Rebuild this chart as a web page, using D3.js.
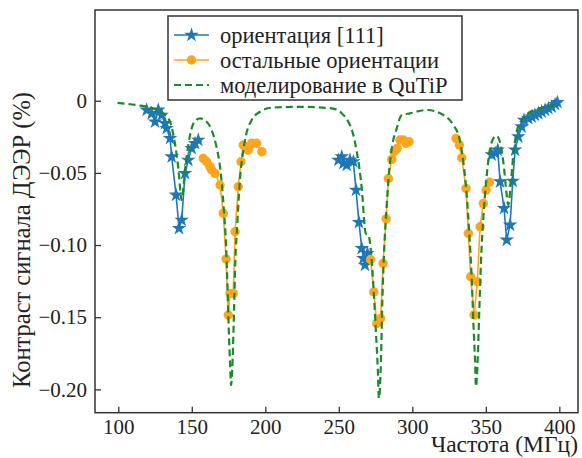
<!DOCTYPE html>
<html lang="ru">
<head>
<meta charset="UTF-8" />
<title>ДЭЭР</title>
<style>
  html, body { margin: 0; padding: 0; background: #fff; }
  svg text { font-family: "Liberation Serif", "DejaVu Serif", serif; fill: #222; }
</style>
</head>
<body>
<div id="chart"></div>
<script src="https://d3js.org/d3.v7.min.js"></script>
<script>
  // ориентация [111] — три участка
  const blueFreqA = [119.3,122.7,125.0,127.2,129.5,131.8,132.9,135.2,136.3,139.3,141.3,143.1,145.4,147.6,149.9,152.2,154.4];
  const blueValA  = [-0.0064,-0.0088,-0.0146,-0.0064,-0.0099,-0.0157,-0.0191,-0.0260,-0.0388,-0.0653,-0.0884,-0.0827,-0.0503,-0.0411,-0.0330,-0.0295,-0.0272];
  const blueFreqB = [249.7,252.0,253.1,255.4,257.6,259.9,261.7,263.7,265.6,266.7,267.8,269.5];
  const blueValB  = [-0.0411,-0.0388,-0.0434,-0.0445,-0.0411,-0.0422,-0.0619,-0.0843,-0.1023,-0.1092,-0.1139,-0.1058];
  const blueFreqC = [354.0,356.3,358.1,359.7,362.4,364.2,366.5,368.3,369.9,372.1,374.4,376.0,378.9,381.2,383.4,385.7,388.0,390.3,392.5,394.8,397.1,398.7];
  const blueValC  = [-0.0374,-0.0363,-0.0341,-0.0561,-0.0745,-0.0965,-0.0861,-0.0557,-0.0341,-0.0249,-0.0180,-0.0134,-0.0122,-0.0111,-0.0099,-0.0088,-0.0076,-0.0064,-0.0053,-0.0042,-0.0025,-0.0011];

  // остальные ориентации
  const orangeFreqA = [157.8,160.1,162.4,163.5,165.8,169.2,171.4,173.3,174.8,176.0,178.2,179.4,181.6,183.5,185.0,188.4,190.7,194.1,197.6];
  const orangeValA  = [-0.0399,-0.0423,-0.0457,-0.0480,-0.0503,-0.0584,-0.0780,-0.1097,-0.1485,-0.1335,-0.1335,-0.0908,-0.0596,-0.0423,-0.0307,-0.0342,-0.0295,-0.0295,-0.0353];
  const orangeFreqB = [271.6,273.8,275.8,278.4,280.1,282.2,283.7,286.0,287.6,289.6,291.6,293.9,295.7,297.8];
  const orangeValB  = [-0.110,-0.1325,-0.1543,-0.1509,-0.1127,-0.0818,-0.0539,-0.0406,-0.0353,-0.0330,-0.0272,-0.0272,-0.0295,-0.0284];
  const orangeFreqC = [329.7,332.0,333.6,336.5,338.1,339.7,342.0,344.2,346.1,348.3,350.2,352.4];
  const orangeValC  = [-0.0261,-0.0307,-0.0395,-0.0607,-0.0919,-0.1220,-0.1485,-0.1254,-0.0873,-0.0711,-0.0619,-0.0565];

  // моделирование в QuTiP
  const qutipFreq = [99.5,112.5,123.8,130.6,135.2,137.9,139.7,141.3,142.4,143.1,144.7,146.1,147.6,149.9,152.9,155.6,160.1,163.5,166.5,168.7,170.3,171.9,173.3,174.1,175.1,176.0,176.7,177.8,178.7,179.6,181.0,182.8,184.6,186.9,190.7,196.4,204.4,224.8,245.2,252.0,256.5,259.9,262.2,264.0,266.0,267.3,268.3,270.1,271.9,273.5,275.1,276.5,277.3,278.7,279.6,281.0,282.6,284.2,286.4,289.4,292.8,298.4,309.8,321.1,327.9,332.0,334.7,337.0,338.8,340.4,341.5,342.7,343.3,344.5,345.6,346.7,348.3,350.2,352.4,355.1,357.4,360.1,362.4,364.2,365.3,366.9,368.7,371.0,374.4,378.9,386.9,395.9,399.3];
  const qutipVal  = [-0.0015,-0.0030,-0.0053,-0.0087,-0.0146,-0.0260,-0.0376,-0.0515,-0.0653,-0.0688,-0.0560,-0.0423,-0.0307,-0.0191,-0.0134,-0.0122,-0.0146,-0.0203,-0.0307,-0.0423,-0.0560,-0.0769,-0.1000,-0.1231,-0.1577,-0.1809,-0.1970,-0.1785,-0.1460,-0.1116,-0.0839,-0.0538,-0.0376,-0.0238,-0.0134,-0.0076,-0.0048,-0.0042,-0.0053,-0.0087,-0.0146,-0.0238,-0.0353,-0.0469,-0.0653,-0.0839,-0.0919,-0.0930,-0.1046,-0.1277,-0.1577,-0.1855,-0.2062,-0.1785,-0.1393,-0.1000,-0.0723,-0.0492,-0.0307,-0.0191,-0.0099,-0.0087,-0.0064,-0.0099,-0.0168,-0.0261,-0.0423,-0.0653,-0.0931,-0.1231,-0.1532,-0.1809,-0.1982,-0.1785,-0.1439,-0.1116,-0.0815,-0.0561,-0.0365,-0.0261,-0.0243,-0.0307,-0.0469,-0.0653,-0.0723,-0.0584,-0.0376,-0.0215,-0.0134,-0.0087,-0.0053,-0.0030,-0.0018];

  const xTicks = [100,150,200,250,300,350,400];
  const yTicks = [0,-0.05,-0.10,-0.15,-0.20];
  const legendLabels = ['ориентация [111]','остальные ориентации','моделирование в QuTiP'];

  const blueColor = '#1f77b4', orangeColor = '#ffa51c', greenColor = '#1a8a2a';
  const W = 582, H = 458;
  const padL = 95, padR = 578, padT = 10, padB = 412.7;

  const zip = (fs, vs) => fs.map((f, i) => ({f: f, v: vs[i]}));

  const x = d3.scaleLinear().domain([84.15, 412.7]).range([padL, padR]);
  const y = d3.scaleLinear().domain([-0.2162, 0.0629]).range([padB, padT]);

  const svg = d3.select('#chart').append('svg').attr('width', W).attr('height', H);

  const line = d3.line().x(d => x(d.f)).y(d => y(d.v));
  const star = d3.symbol().type(d3.symbolStar).size(66);

  function series(data, color, marker) {
    svg.append('path').datum(data)
      .attr('fill', 'none').attr('stroke', color).attr('stroke-width', 1.6)
      .attr('d', line);
    const g = svg.append('g');
    if (marker === 'star') {
      g.selectAll('path').data(data).join('path')
        .attr('d', star).attr('fill', color)
        .attr('transform', d => `translate(${x(d.f)},${y(d.v)})`);
    } else {
      g.selectAll('circle').data(data).join('circle')
        .attr('cx', d => x(d.f)).attr('cy', d => y(d.v)).attr('r', 4.7)
        .attr('fill', color);
    }
  }

  series(zip(blueFreqA, blueValA), blueColor, 'star');
  series(zip(blueFreqB, blueValB), blueColor, 'star');
  series(zip(blueFreqC, blueValC), blueColor, 'star');
  series(zip(orangeFreqA, orangeValA), orangeColor, 'circle');
  series(zip(orangeFreqB, orangeValB), orangeColor, 'circle');
  series(zip(orangeFreqC, orangeValC), orangeColor, 'circle');

  svg.append('path').datum(zip(qutipFreq, qutipVal))
    .attr('fill', 'none').attr('stroke', greenColor).attr('stroke-width', 2.2)
    .attr('stroke-dasharray', '7,4')
    .attr('d', d3.line().x(d => x(d.f)).y(d => y(d.v)).curve(d3.curveMonotoneX));

  // рамка
  svg.append('rect').attr('x', padL).attr('y', padT)
    .attr('width', padR - padL).attr('height', padB - padT)
    .attr('fill', 'none').attr('stroke', '#333').attr('stroke-width', 1.5);

  // оси (деления внутрь)
  const xAxis = svg.append('g').attr('transform', `translate(0,${padB})`)
    .call(d3.axisBottom(x).tickValues(xTicks).tickSizeInner(-6).tickSizeOuter(0).tickPadding(6));
  const yAxis = svg.append('g').attr('transform', `translate(${padL},0)`)
    .call(d3.axisLeft(y).tickValues(yTicks).tickSizeInner(-6).tickSizeOuter(0).tickPadding(8)
      .tickFormat(d => d === 0 ? '0' : '\u2212' + Math.abs(d).toFixed(2)));
  [xAxis, yAxis].forEach(a => {
    a.select('.domain').remove();
    a.selectAll('line').attr('stroke', '#333').attr('stroke-width', 1.3);
    a.selectAll('text').attr('font-size', 21).attr('fill', '#222')
      .attr('font-family', '"Liberation Serif", serif');
  });
  xAxis.selectAll('text').attr('dy', '0.71em');

  svg.append('text').attr('x', padR).attr('y', 452).attr('text-anchor', 'end')
    .attr('font-size', 23.5).text('Частота (МГц)');
  svg.append('text').attr('transform', 'translate(30,240) rotate(-90)')
    .attr('text-anchor', 'middle').attr('font-size', 24.5)
    .text('Контраст сигнала ДЭЭР (%)');

  // легенда
  const lg = svg.append('g');
  lg.append('rect').attr('x', 168).attr('y', 16).attr('width', 294).attr('height', 84)
    .attr('fill', '#fff').attr('stroke', '#333').attr('stroke-width', 1.5);
  const rows = [
    {c: blueColor, m: 'star', dash: null},
    {c: orangeColor, m: 'circle', dash: null},
    {c: greenColor, m: null, dash: '7,4'}
  ];
  rows.forEach((r, i) => {
    const cy = 35 + i * 25;
    lg.append('line').attr('x1', 174).attr('x2', 209).attr('y1', cy).attr('y2', cy)
      .attr('stroke', r.c).attr('stroke-width', r.dash ? 2.2 : 1.6)
      .attr('stroke-dasharray', r.dash);
    if (r.m === 'star') lg.append('path').attr('d', star).attr('fill', r.c)
      .attr('transform', `translate(191.5,${cy})`);
    if (r.m === 'circle') lg.append('circle').attr('cx', 191.5).attr('cy', cy).attr('r', 4.7).attr('fill', r.c);
    lg.append('text').attr('x', 220).attr('y', cy).attr('dy', '0.35em')
      .attr('font-size', 22.5).text(legendLabels[i]);
  });
</script>
</body>
</html>
